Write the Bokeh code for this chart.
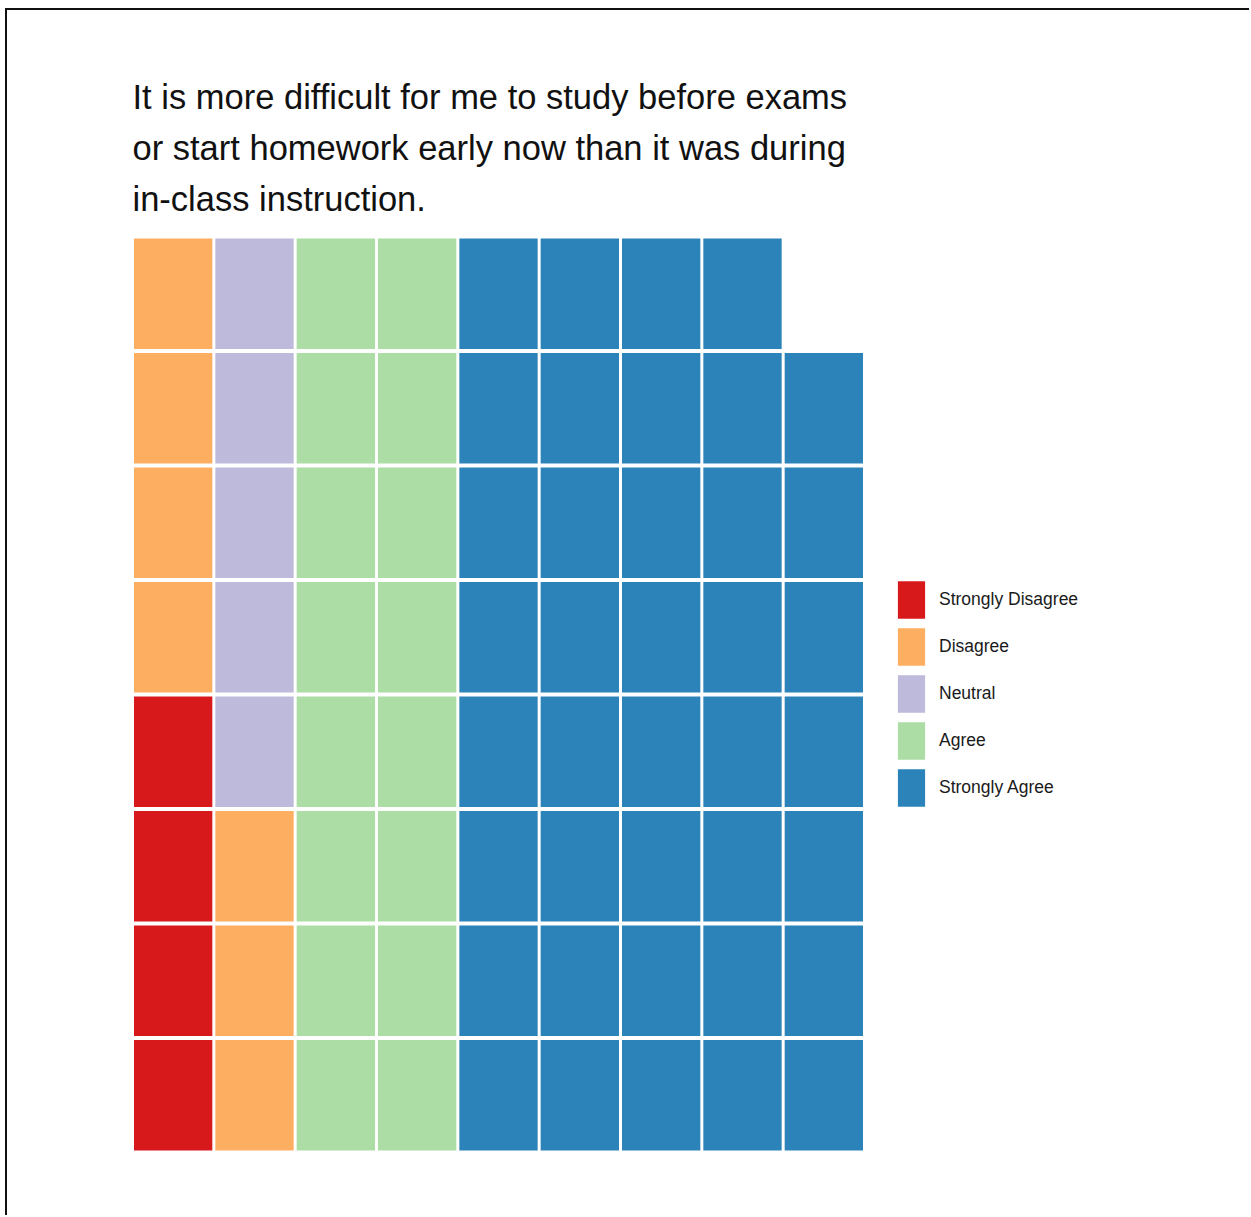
from bokeh.plotting import figure
from bokeh.models import Range1d, Legend, LegendItem, Title, ColumnDataSource
from bokeh.embed import file_html
from bokeh.resources import INLINE

# ---- data ----
categories = ["Strongly Disagree", "Disagree", "Neutral", "Agree", "Strongly Agree"]
counts = [4, 7, 5, 16, 39]
colors = ["#d7191c", "#fdae61", "#bdbadb", "#abdda4", "#2c83ba"]
n_rows = 8
n_cols = 9
title_lines = [
    "It is more difficult for me to study before exams",
    "or start homework early now than it was during",
    "in-class instruction.",
]

FONT = "Liberation Sans, Arial, sans-serif"

# waffle positions: fill column by column, bottom to top
cells = {c: {"x": [], "y": []} for c in categories}
k = 0
for cat, n in zip(categories, counts):
    for _ in range(n):
        col, row = divmod(k, n_rows)
        cells[cat]["x"].append(col + 0.5)
        cells[cat]["y"].append(row + 0.5)
        k += 1

W, H = 1244, 1207
left, top = 125, 226
tile_w, fh = 732, 916          # pixel extent of the waffle grid
fw = W - left                  # frame extends to the right edge to hold the legend

p = figure(width=W, height=H, output_backend="svg", toolbar_location=None,
           x_range=Range1d(0, n_cols * fw / tile_w), y_range=Range1d(0, n_rows),
           min_border_left=left, min_border_top=top,
           min_border_right=0, min_border_bottom=H - top - fh,
           background_fill_color="white", border_fill_color="white")
p.axis.visible = False
p.grid.visible = False
p.outline_line_color = None
p.styles = {"border-top": "2px solid #111", "border-left": "2px solid #111",
            "margin-left": "5px", "margin-top": "8px"}

items = []
for cat, col in zip(categories, colors):
    src = ColumnDataSource(data=cells[cat])
    r = p.rect(x="x", y="y", width=0.963, height=0.967, source=src,
               fill_color=col, line_color=None)
    items.append(LegendItem(label=cat, renderers=[r]))

legend = Legend(items=items, location=(tile_w + 30, 341),
                glyph_width=34, glyph_height=47, spacing=0,
                label_standoff=11, padding=0, margin=0,
                label_text_font=FONT, label_text_font_size="17.5px",
                label_text_color="#1a1a1a",
                border_line_color=None, background_fill_alpha=0)
p.add_layout(legend, "center")

# spacer between frame and title block
p.add_layout(Title(text=" ", text_font_size="10px", standoff=0, offset=0), "above")
for line in reversed(title_lines):
    t = Title(text=line, align="left", text_font=FONT, text_font_size="34.5px",
              text_font_style="normal", text_color="#111111",
              standoff=11, offset=0)
    p.add_layout(t, "above")

open("out.html", "w").write(file_html(p, INLINE))
